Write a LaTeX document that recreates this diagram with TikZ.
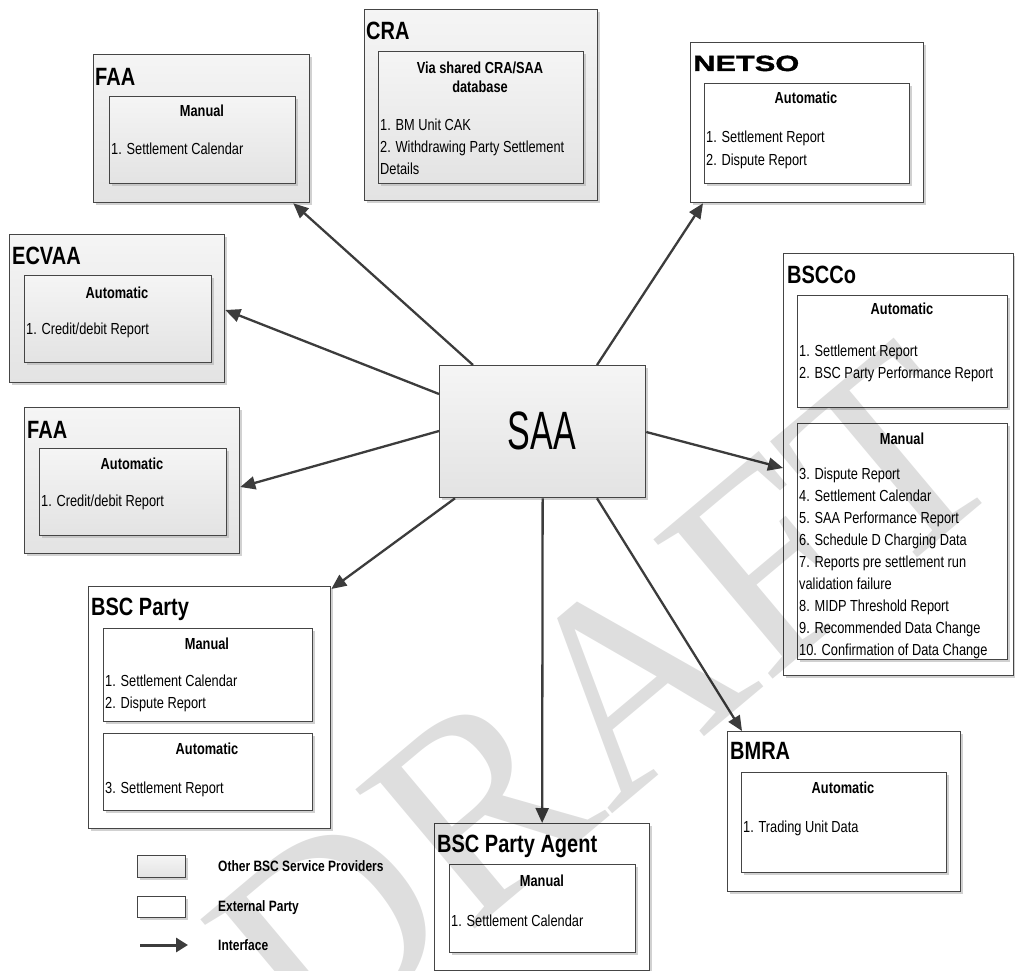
\documentclass[tikz,border=0pt]{standalone}
\usepackage{fontspec}
\usetikzlibrary{arrows.meta,shadows,calc}
\newfontfamily\bodyf{Liberation Sans}[FakeStretch=0.8]
\newfontfamily\saaf{Liberation Sans}[FakeStretch=0.63]
\newfontfamily\netsof{Liberation Sans Bold}[FakeStretch=1.4,FakeBold=1.5]
\newfontfamily\wmf{Liberation Serif}
\definecolor{bd}{HTML}{454545}
\definecolor{arr}{HTML}{3C3C3C}
\tikzset{
 box/.style={draw=bd, line width=1.3pt, inner sep=0pt, anchor=north west,
   drop shadow={shadow xshift=2.5pt, shadow yshift=-2.5pt, fill=black!30, opacity=0.6}},
 gbox/.style={box, top color=black!4, bottom color=black!11},
 wbox/.style={box, fill=white},
 title/.style={font=\bodyf\bfseries\fontsize{25}{30}\selectfont, anchor=base west, inner sep=0pt},
 sub/.style={font=\bodyf\bfseries\fontsize{16}{19}\selectfont, anchor=base, inner sep=0pt},
 item/.style={font=\bodyf\fontsize{16}{19}\selectfont, anchor=base west, inner sep=0pt},
 lg/.style={font=\bodyf\bfseries\fontsize{15}{18}\selectfont, anchor=base west, inner sep=0pt},
 link/.style={draw=arr, line width=2.3pt, -{Triangle[length=15pt,width=13pt]}},
}
\newcommand\itemlist[4]{\foreach \t [count=\i from 0] in {#4} {\node[item] (#1-\i) at (#2, #3+22*\i) {\t};}}
\begin{document}
\begin{tikzpicture}[x=1pt,y=-1pt]
\useasboundingbox (0,0) rectangle (1015,971);
% outer boxes
\node[gbox, minimum width=216pt, minimum height=148pt] (faa1) at (93,54) {};
\node[gbox, minimum width=233pt, minimum height=191pt] (cra) at (364,9) {};
\node[wbox, minimum width=233pt, minimum height=160pt] (netso) at (690,42) {};
\node[gbox, minimum width=215pt, minimum height=148pt] (ecvaa) at (9,234) {};
\node[gbox, minimum width=215pt, minimum height=146pt] (faa2) at (24,407) {};
\node[wbox, minimum width=230pt, minimum height=422pt] (bscco) at (783,253) {};
\node[wbox, minimum width=242pt, minimum height=242pt] (party) at (88,586) {};
\node[wbox, minimum width=215pt, minimum height=147pt] (agent) at (434,823) {};
\node[wbox, minimum width=233pt, minimum height=160pt] (bmra) at (727,731) {};
\node[gbox, minimum width=206pt, minimum height=132pt] (saa) at (439,365) {};
% inner boxes
\node[gbox, minimum width=186pt, minimum height=87pt] (faa1i) at (109,96) {};
\node[gbox, minimum width=205pt, minimum height=132pt] (crai) at (378,51) {};
\node[wbox, minimum width=205pt, minimum height=100pt] (netsoi) at (704,83) {};
\node[gbox, minimum width=187pt, minimum height=87pt] (ecvaai) at (24,275) {};
\node[gbox, minimum width=187pt, minimum height=87pt] (faa2i) at (39,448) {};
\node[wbox, minimum width=210pt, minimum height=112pt] (bsccoa) at (797,295) {};
\node[wbox, minimum width=210pt, minimum height=236pt] (bsccom) at (797,423) {};
\node[wbox, minimum width=209pt, minimum height=93pt] (partym) at (103,628) {};
\node[wbox, minimum width=209pt, minimum height=77pt] (partya) at (103,733) {};
\node[wbox, minimum width=186pt, minimum height=88pt] (agenti) at (449,864) {};
\node[wbox, minimum width=205pt, minimum height=100pt] (bmrai) at (741,772) {};
% titles
\node[title] (tfaa1) at (95,86) {FAA};
\node[title] (tcra) at (366,40) {CRA};
\node[font=\netsof\fontsize{22}{26}\selectfont, anchor=base west, inner sep=0pt] (tnetso) at (693,71) {NETSO};
\node[title] (tecvaa) at (12,264) {ECVAA};
\node[title] (tfaa2) at (27,438) {FAA};
\node[title] (tbscco) at (787,283) {BSCCo};
\node[title] (tparty) at (91,615) {BSC Party};
\node[title] (tagent) at (437,852) {BSC Party Agent};
\node[title] (tbmra) at (730,759) {BMRA};
\node[font=\saaf\fontsize{54}{60}\selectfont, inner sep=0pt] (tsaa) at (542,431) {SAA};
% sub headers
\node[sub] (sfaa1) at (202,117) {Manual};
\node[sub] (scra1) at (480,74) {Via shared CRA/SAA};
\node[sub] (scra2) at (480,93) {database};
\node[sub] (snetso) at (806,104) {Automatic};
\node[sub] (secvaa) at (117,298) {Automatic};
\node[sub] (sfaa2) at (132,469) {Automatic};
\node[sub] (sbsccoa) at (902,314) {Automatic};
\node[sub] (sbsccom) at (902,444) {Manual};
\node[sub] (spartym) at (207,649) {Manual};
\node[sub] (spartya) at (207,754) {Automatic};
\node[sub] (sagent) at (542,886) {Manual};
\node[sub] (sbmra) at (843,793) {Automatic};
% items
\itemlist{ifaa1}{111}{155}{1. Settlement Calendar}
\itemlist{icra}{380}{131}{1. BM Unit CAK, 2. Withdrawing Party Settlement, Details}
\itemlist{inetso}{706}{143}{1. Settlement Report, 2. Dispute Report}
\itemlist{iecvaa}{26}{334}{1. Credit/debit Report}
\itemlist{ifaa2}{41}{506}{1. Credit/debit Report}
\itemlist{ibsccoa}{799}{356}{1. Settlement Report, 2. BSC Party Performance Report}
\itemlist{ibsccom}{799}{479}{3. Dispute Report, 4. Settlement Calendar, 5. SAA Performance Report, 6. Schedule D Charging Data, 7. Reports pre settlement run, validation failure, 8. MIDP Threshold Report, 9. Recommended Data Change, 10. Confirmation of Data Change}
\itemlist{ipartym}{105}{686}{1. Settlement Calendar, 2. Dispute Report}
\itemlist{ipartya}{105}{793}{3. Settlement Report}
\itemlist{iagent}{451}{926}{1. Settlement Calendar}
\itemlist{ibmra}{743}{832}{1. Trading Unit Data}
% connectors
\draw[link] ([xshift=34pt]saa.north west) -- ([xshift=-17pt]faa1.south east);
\draw[link] ([yshift=-29pt]saa.north west) -- ([yshift=-76pt]ecvaa.north east);
\draw[link] ([yshift=-66pt]saa.north west) -- ([yshift=-80pt]faa2.north east);
\draw[link] ([xshift=158pt]saa.north west) -- ([xshift=13pt]netso.south west);
\draw[link] ([yshift=-67pt]saa.north east) -- ([yshift=-215pt]bscco.north west);
\draw[link] ([xshift=16pt]saa.south west) -- ([yshift=-3pt]party.north east);
\draw[link] (saa.south) -- (agent.north);
\draw[link] ([xshift=158pt]saa.south west) -- ([xshift=15pt]bmra.north west);
% legend
\node[gbox, minimum width=48pt, minimum height=22pt] (lg1) at (137,855) {};
\node[wbox, minimum width=48pt, minimum height=21pt] (lg2) at (137,896) {};
\coordinate (lg3a) at (140,945);
\coordinate (lg3b) at (188,945);
\draw[draw=arr, line width=3pt, -{Triangle[length=12pt,width=14pt]}] (lg3a) -- (lg3b);
\node[lg] (tlg1) at (218,871) {Other BSC Service Providers};
\node[lg] (tlg2) at (218,911) {External Party};
\node[lg] (tlg3) at (218,950) {Interface};
% watermark
\node[font=\wmf\fontsize{280}{280}\selectfont, text=black!13, rotate=40, blend mode=multiply, inner sep=0pt] (wm) at (605,700) {DRAFT};
\end{tikzpicture}
\end{document}
